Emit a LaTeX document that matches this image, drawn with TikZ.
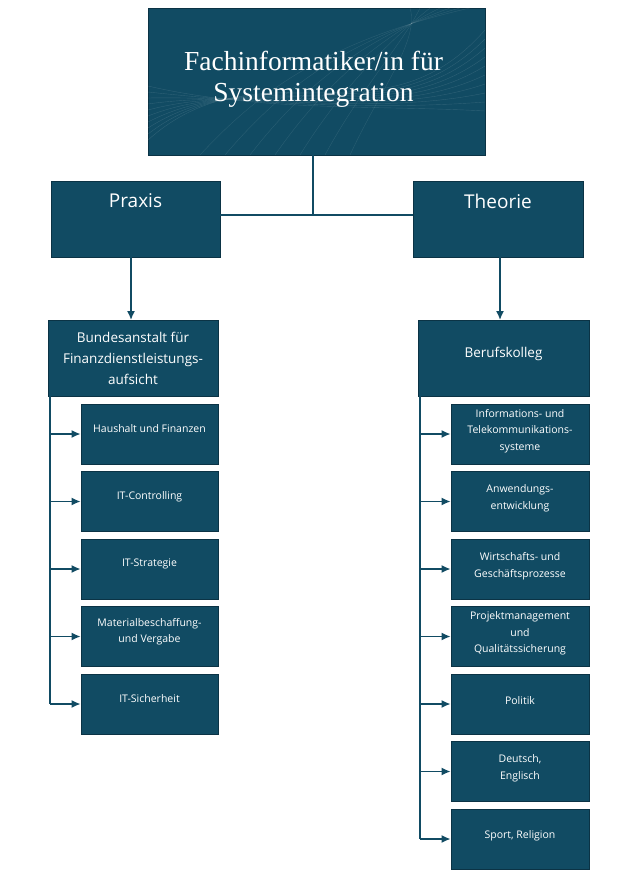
\documentclass[tikz,border=0pt]{standalone}
\usepackage{fontspec}
\setmainfont{Liberation Serif}
\newfontfamily\boxfont{Open Sans}
\usetikzlibrary{arrows.meta}
\definecolor{boxblue}{HTML}{114B63}
\definecolor{boxline}{HTML}{0B3345}
\tikzset{
  box/.style = {draw = boxline, fill = boxblue, line width = 0.8pt, inner sep = 0pt},
  txt/.style = {text = white, align = center, font = \boxfont, inner sep = 0pt},
  conn/.style = {draw = boxblue, line width = 1.5pt},
  arr/.style = {conn, -{Latex[length = 9pt, width = 8pt]}}
}
\begin{document}
\begin{tikzpicture}[x = 1pt, y = -1pt]
\useasboundingbox (0, 0) rectangle (622, 880);
% title box
\node[box, minimum width = 337pt, minimum height = 147pt] (title) at (316.5, 81.5) {};
\begin{scope}
\clip (148, 8) rectangle (485, 155);
\foreach \k in {0, ..., 9}
  \draw[white, opacity = 0.12, line width = 0.4pt]
    (148, 140 - 6 * \k) .. controls (260, 40 + 8 * \k) and (380, 150 - 5 * \k) .. (485, 30 + 9 * \k);
\foreach \k in {0, ..., 6}
  \draw[white, opacity = 0.10, line width = 0.4pt]
    (200 + 25 * \k, 155) .. controls (260 + 20 * \k, 90) and (330 + 15 * \k, 40) .. (470 - 10 * \k, 8);
\end{scope}
\node[txt, font = \fontsize{27.5}{31}\selectfont] (titletxt) at (313.5, 79) {Fachinformatiker/in für\\Systemintegration};
% second level
\node[box, minimum width = 169pt, minimum height = 76pt] (praxis) at (135.5, 219) {};
\node[txt, font = \boxfont\fontsize{19}{23}\selectfont] (praxistxt) at (135.5, 201) {Praxis};
\node[box, minimum width = 170pt, minimum height = 76pt] (theorie) at (498, 219) {};
\node[txt, font = \boxfont\fontsize{19}{23}\selectfont] (theorietxt) at (498, 201) {Theorie};
\coordinate (mid) at (313, 215);
\draw[conn] (title.south -| mid) -- (mid);
\draw[conn] (praxis.east |- mid) -- (theorie.west |- mid);
% third level
\node[box, minimum width = 170pt, minimum height = 76pt] (bafin) at (133, 358) {};
\node[txt, font = \boxfont\fontsize{13.5}{21}\selectfont] (bafintxt) at (133, 358) {Bundesanstalt für\\Finanzdienstleistungs-\\aufsicht};
\node[box, minimum width = 171pt, minimum height = 76pt] (kolleg) at (503.5, 358) {};
\node[txt, font = \boxfont\fontsize{13.5}{21}\selectfont] (kollegtxt) at (503.5, 354) {Berufskolleg};
\draw[arr] (131, 257) -- (131, 320);
\draw[arr] (500, 257) -- (500, 320);
% Praxis children
\coordinate (ptop) at (50, 396);
\foreach \t [count = \i] in {Haushalt und Finanzen, IT-Controlling, IT-Strategie, {Materialbeschaffung-\\und Vergabe}, IT-Sicherheit} {
  \pgfmathsetmacro{\yc}{434 + 67.5 * (\i - 1)}
  \node[box, minimum width = 137pt, minimum height = 60pt] (p\i) at (149.5, \yc) {};
  \node[txt, font = \boxfont\fontsize{10.5}{16}\selectfont] (p\i txt) at (149.5, \yc - 5) {\t};
  \draw[arr] (ptop |- p\i.west) -- (p\i.west);
}
\draw[conn] (ptop) -- (ptop |- p5.west);
% Theorie children
\coordinate (ttop) at (420, 396);
\foreach \t [count = \i] in {{Informations- und\\Telekommunikations-\\systeme}, {Anwendungs-\\entwicklung}, {Wirtschafts- und\\Geschäftsprozesse}, {Projektmanagement\\und\\Qualitätssicherung}, Politik, {Deutsch,\\Englisch}, {Sport, Religion}} {
  \pgfmathsetmacro{\yc}{434 + 67.5 * (\i - 1)}
  \node[box, minimum width = 138pt, minimum height = 60pt] (t\i) at (520, \yc) {};
  \node[txt, font = \boxfont\fontsize{10.5}{16.5}\selectfont] (t\i txt) at (520, \yc - 3) {\t};
  \draw[arr] (ttop |- t\i.west) -- (t\i.west);
}
\draw[conn] (ttop) -- (ttop |- t7.west);
\end{tikzpicture}
\end{document}
